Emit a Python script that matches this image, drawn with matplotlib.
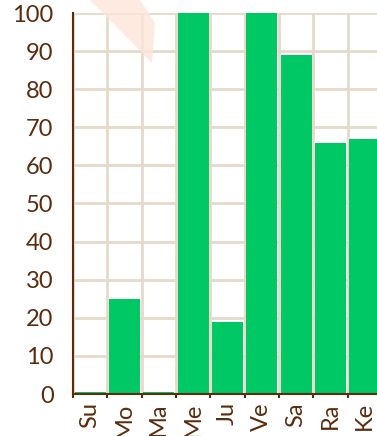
import numpy as np
import matplotlib.pyplot as plt
from matplotlib.patches import Polygon

days = ['Su', 'Mo', 'Ma', 'Me', 'Ju', 'Ve', 'Sa', 'Ra', 'Ke']
scores = [0.6, 25, 0.6, 100, 19, 100, 89, 66, 67]
y_ticks = [0, 10, 20, 30, 40, 50, 60, 70, 80, 90, 100]

green = '#00c864'
brown = '#5b2c0e'
grid_col = '#e6dacb'

plt.rcParams['font.family'] = ['Lato', 'DejaVu Sans']

fig = plt.figure(figsize=(3.77, 4.36), dpi=100)
W, H = 377, 436
ax = fig.add_axes([73 / W, 42 / H, 309 / W, 381 / H])

# faint ribbon in the background, top left
ribbon = Polygon([(90, 436), (140, 436), (155, 413), (152, 373)],
                 closed=True, transform=None, facecolor='#fde6da',
                 edgecolor='none', alpha=0.8, zorder=0)
fig.patches.append(ribbon)

x = np.arange(len(days))
ax.bar(x, scores, width=0.9, color=green, zorder=3, clip_on=False)

ax.set_xlim(-0.5, len(days) - 0.5)
ax.set_ylim(0, 100)
ax.set_yticks(y_ticks)
ax.set_yticklabels([str(v) for v in y_ticks])
ax.set_xticks(x)
ax.set_xticklabels(days, rotation=90)
ax.set_xticks(np.arange(-0.5, len(days)), minor=True)

ax.set_facecolor('none')
ax.grid(axis='y', color=grid_col, linewidth=2, zorder=1)
ax.grid(axis='x', which='minor', color=grid_col, linewidth=2, zorder=1)
ax.grid(axis='x', which='major', visible=False)

for side in ['top', 'right']:
    ax.spines[side].set_visible(False)
for side in ['left', 'bottom']:
    ax.spines[side].set_color(brown)
    ax.spines[side].set_linewidth(1.5)
    ax.spines[side].set_zorder(4)

ax.tick_params(axis='y', length=0, pad=14, labelsize=17, labelcolor=brown)
ax.tick_params(axis='x', which='major', length=0, pad=6, labelsize=17,
               labelcolor=brown)
ax.tick_params(axis='x', which='minor', length=3, width=1.5, color=brown)

fig.savefig('out.png', dpi=100)
